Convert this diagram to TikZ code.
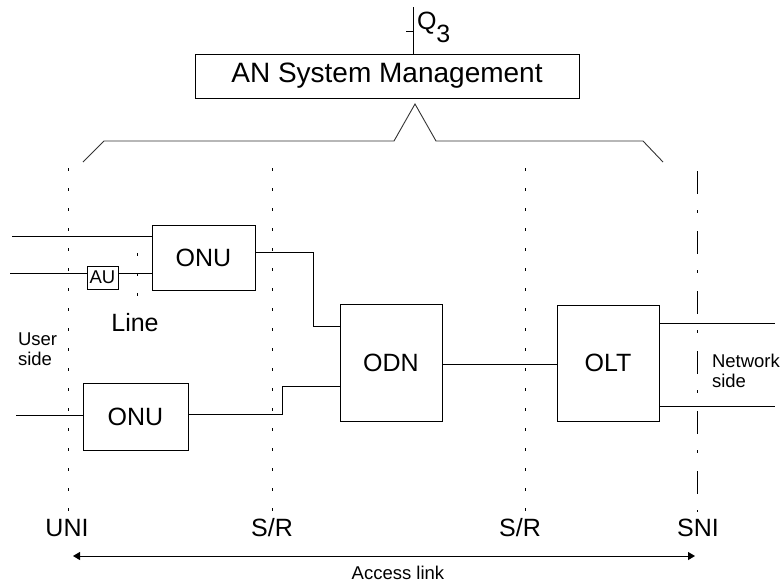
\documentclass[tikz,border=0pt]{standalone}
\usepackage{fontspec}
\setmainfont{Liberation Sans}
\usetikzlibrary{arrows.meta}
\begin{document}
\begin{tikzpicture}[x=1pt,y=-1pt,
  every node/.style={inner sep=0pt, outer sep=0pt},
  blk/.style={draw, line width=1pt, fill=white, font=\fontsize{25}{30}\selectfont},
  wire/.style={line width=1pt},
  big/.style={font=\fontsize{25}{30}\selectfont},
  small/.style={font=\fontsize{18.5}{21}\selectfont, align=left},
  dotline/.style={line width=1pt, dash pattern=on 3pt off 17pt},
  dashdotline/.style={line width=1pt, dash pattern=on 23pt off 16pt on 3pt off 18pt},
  bracel/.style={line width=0.9pt, draw=black!80}]
\useasboundingbox (0,0) rectangle (781,584);

% management box
\node[blk, minimum width=384pt, minimum height=44pt, font=\fontsize{28}{32}\selectfont] (ansm) at (387,76) {AN System Management};
\coordinate (qtop) at (413,7);
\coordinate (qbot) at (413,54);
\draw[wire] (qtop) -- (qbot);
\coordinate (qt1) at (406,31);
\coordinate (qt2) at (413,31);
\draw[wire] (qt1) -- (qt2);
\node[big, anchor=west] (q3) at (417,27) {Q\raisebox{-1.0ex}{3}};

% brace
\coordinate (b1) at (83,162);
\coordinate (b2) at (104,141);
\coordinate (b3) at (394,141);
\coordinate (b4) at (415,104);
\coordinate (b5) at (436,141);
\coordinate (b6) at (643,141);
\coordinate (b7) at (663,162);
\draw[bracel] (b1) -- (b2) -- (b3) -- (b4) -- (b5) -- (b6) -- (b7);

% reference point lines
\coordinate (uniT) at (68,168);  \coordinate (uniB) at (68,512);
\coordinate (sr1T) at (272,168); \coordinate (sr1B) at (272,512);
\coordinate (sr2T) at (525,168); \coordinate (sr2B) at (525,512);
\coordinate (sniT) at (697,171); \coordinate (sniB) at (697,512);
\coordinate (lnT) at (137,253);  \coordinate (lnB) at (137,300);
\draw[dotline] (uniT) -- (uniB);
\draw[dotline] (sr1T) -- (sr1B);
\draw[dotline] (sr2T) -- (sr2B);
\draw[dotline] (lnT) -- (lnB);
\draw[dashdotline] (sniT) -- (sniB);

% blocks
\node[blk, minimum width=103pt, minimum height=65pt] (onu1) at (203.5,257.5) {ONU};
\node[blk, minimum width=105pt, minimum height=67pt] (onu2) at (135.5,416.5) {ONU};
\node[blk, minimum width=102pt, minimum height=117pt] (odn) at (391,362.5) {ODN};
\node[blk, minimum width=102pt, minimum height=116pt] (olt) at (608,363) {OLT};
\node[draw, line width=1pt, minimum width=31pt, minimum height=23pt, font=\fontsize{18.5}{21}\selectfont] (au) at (102.5,277.5) {AU};

% user-side wires
\coordinate (in1) at (12,236);
\coordinate (in2) at (10,273);
\coordinate (in3) at (16,415);
\draw[wire] (in1) -- (in1 -| onu1.west);
\draw[wire] (in2) -- (in2 -| au.west);
\draw[wire] (au.east |- in2) -- (in2 -| onu1.west);
\draw[wire] (in3) -- (in3 -| onu2.west);

% ONU to ODN
\coordinate (o1a) at (255,252);
\coordinate (o1b) at (313,252);
\coordinate (o1c) at (313,326);
\draw[wire] (o1a) -- (o1b) -- (o1c) -- (o1c -| odn.west);
\coordinate (o2a) at (188,414);
\coordinate (o2b) at (282,414);
\coordinate (o2c) at (282,386);
\draw[wire] (o2a) -- (o2b) -- (o2c) -- (o2c -| odn.west);

% ODN to OLT
\draw[wire] (odn.east |- 0,364) -- (olt.west |- 0,364);

% network side
\coordinate (n1) at (775,323);
\coordinate (n2) at (775,406);
\draw[wire] (olt.east |- n1) -- (n1);
\draw[wire] (olt.east |- n2) -- (n2);

% labels
\node[big] (line) at (135,323) {Line};
\node[small, anchor=west] (user) at (18,349) {User\\[-1pt]side};
\node[small, anchor=west] (net) at (712,371) {Network\\[-1pt]side};
\node[big] (uni) at (67,528) {UNI};
\node[big] (sr1) at (272,528) {S/R};
\node[big] (sr2) at (520,528) {S/R};
\node[big] (sni) at (698,528) {SNI};

% access link
\coordinate (al) at (73,556);
\coordinate (ar) at (695,556);
\draw[wire, {Triangle[width=8pt,length=7pt]}-{Triangle[width=8pt,length=7pt]}] (al) -- (ar);
\node[font=\fontsize{18.5}{21}\selectfont] (acc) at (398,573) {Access link};
\end{tikzpicture}
\end{document}
